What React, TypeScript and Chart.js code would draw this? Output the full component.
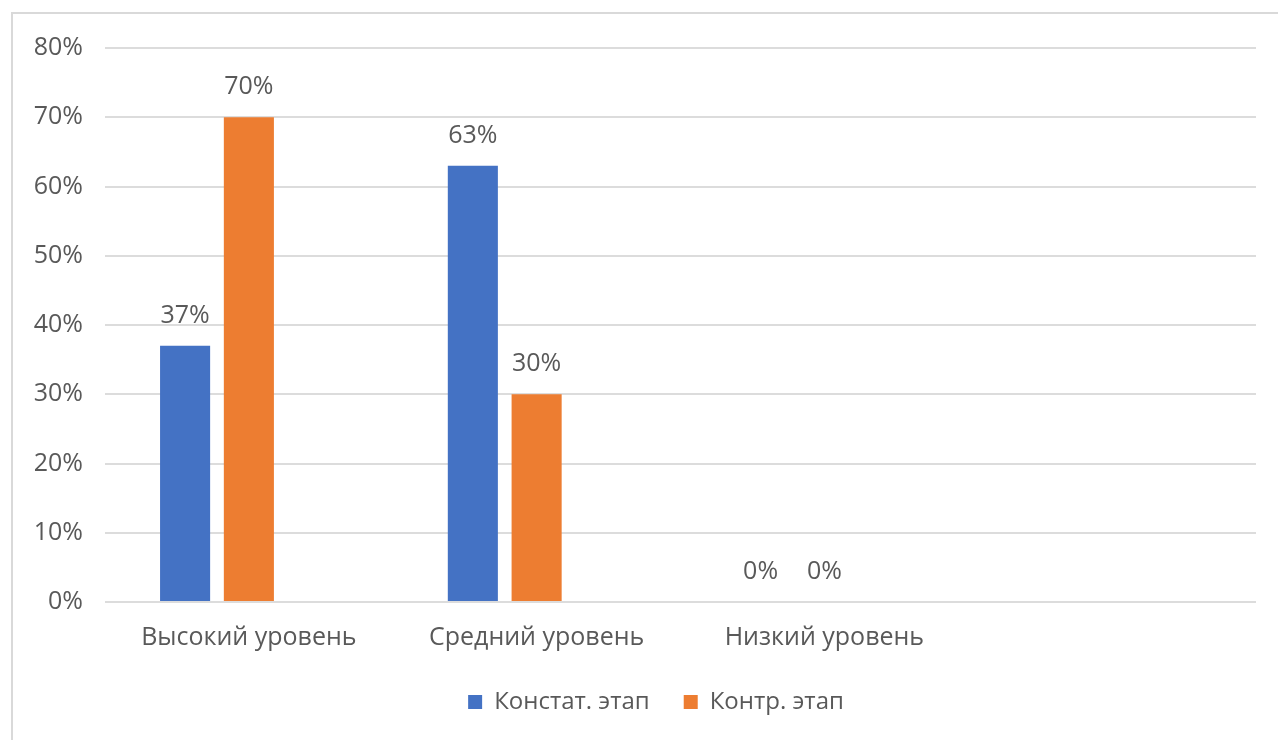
import { useEffect, useRef } from "react";
import { Chart, registerables } from "chart.js";

Chart.register(...registerables);

const categories = ["Высокий уровень", "Средний уровень", "Низкий уровень", ""];
const constatValues = [37, 63, 0, null];
const controlValues = [70, 30, 0, null];
const emptyValues = [null, null, null, null];
const yTicks = [0, 10, 20, 30, 40, 50, 60, 70, 80];

const FONT = "'Open Sans', 'Noto Sans', sans-serif";
const TEXT = "#595959";

const dataLabels = {
  id: "dataLabels",
  afterDatasetsDraw(chart: any) {
    const ctx = chart.ctx;
    ctx.save();
    ctx.font = `25px ${FONT}`;
    ctx.fillStyle = TEXT;
    ctx.textAlign = "center";
    ctx.textBaseline = "middle";
    chart.data.datasets.forEach((ds: any, i: number) => {
      if (!ds.label) return;
      const meta = chart.getDatasetMeta(i);
      meta.data.forEach((bar: any, j: number) => {
        const v = ds.data[j];
        if (v === null || v === undefined) return;
        ctx.fillText(v + "%", bar.x, bar.y - 30);
      });
    });
    ctx.restore();
  },
};

// centre the legend on the whole (cropped) chart box, not on the padded area
const legendSpan = {
  id: "legendSpan",
  afterLayout(chart: any) {
    if (chart.legend) {
      chart.legend.left = 0;
      chart.legend.right = chart.width;
    }
  },
};

export default function App() {
  const chartRef = useRef<HTMLCanvasElement>(null);
  const chartInstance = useRef<Chart | null>(null);

  useEffect(() => {
    if (!chartRef.current) return;
    if (chartInstance.current) chartInstance.current.destroy();
    const ctx = chartRef.current.getContext("2d");
    if (!ctx) return;

    chartInstance.current = new Chart(ctx, {
      type: "bar",
      data: {
        labels: categories,
        datasets: [
          { label: "Констат. этап", data: constatValues, backgroundColor: "#4472C4" },
          { label: "Контр. этап", data: controlValues, backgroundColor: "#ED7D31" },
          { label: "", data: emptyValues, backgroundColor: "#A5A5A5" },
        ],
      },
      options: {
        responsive: false,
        animation: false,
        layout: { padding: { top: 15, right: 43, left: 0, bottom: 13 } },
        datasets: {
          bar: { categoryPercentage: 0.665, barPercentage: 0.785 },
        },
        scales: {
          x: {
            grid: { display: false },
            border: { display: false },
            ticks: { color: TEXT, font: { family: FONT, size: 25 }, padding: 13 },
            afterFit: (scale: any) => {
              scale.height -= 10;
            },
          },
          y: {
            min: 0,
            max: 80,
            afterBuildTicks: (scale: any) => {
              scale.ticks = yTicks.map((v) => ({ value: v }));
            },
            afterFit: (scale: any) => {
              scale.width = 92;
            },
            grid: { color: "#dcdcdc", lineWidth: 2, drawTicks: false },
            border: { display: false },
            ticks: {
              color: TEXT,
              font: { family: FONT, size: 25 },
              padding: 22,
              callback: (v: any) => v + "%",
            },
          },
        },
        plugins: {
          legend: {
            position: "bottom",
            labels: {
              filter: (item: any) => item.text !== "",
              color: TEXT,
              font: { family: FONT, size: 24 },
              boxWidth: 14,
              boxHeight: 14,
              padding: 34,
            },
          },
          tooltip: { enabled: false },
        },
      },
      plugins: [dataLabels, legendSpan],
    });

    return () => {
      if (chartInstance.current) {
        chartInstance.current.destroy();
        chartInstance.current = null;
      }
    };
  }, []);

  return (
    <div
      style={{
        position: "fixed",
        left: 0,
        top: 0,
        width: 1278,
        height: 740,
        overflow: "hidden",
        background: "#ffffff",
      }}
    >
      <div
        style={{
          position: "absolute",
          left: 11,
          top: 12,
          width: 1320,
          height: 800,
          border: "2px solid #d9d9d9",
          boxSizing: "border-box",
        }}
      />
      <canvas
        ref={chartRef}
        width={1286}
        height={726}
        style={{ position: "absolute", left: 13, top: 11, width: 1286, height: 726 }}
      />
    </div>
  );
}
